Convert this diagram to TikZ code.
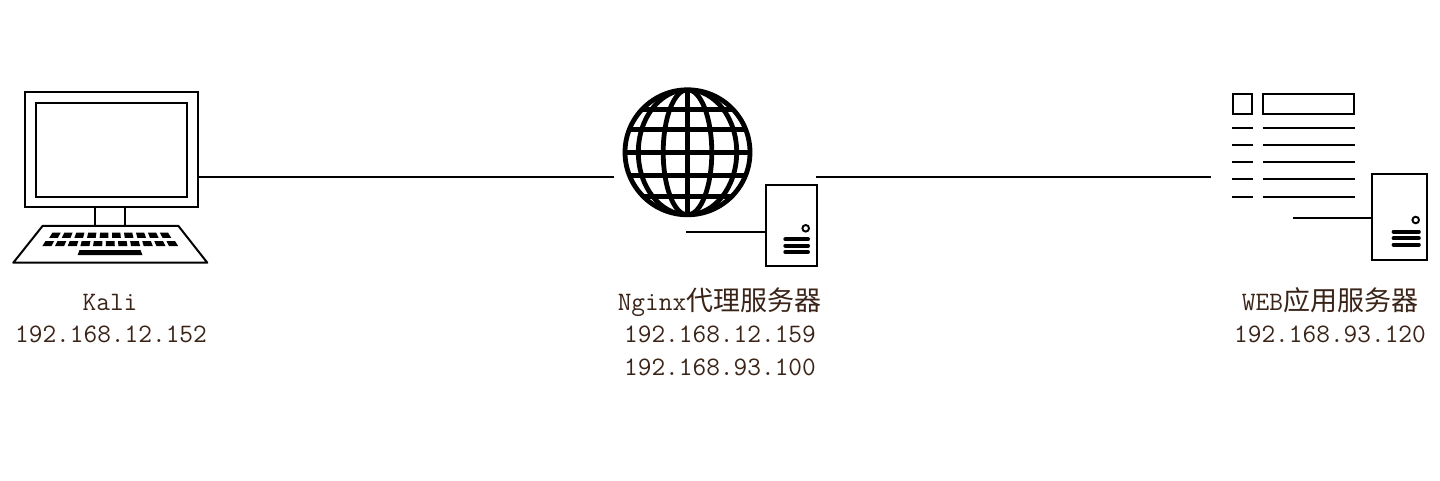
\documentclass[tikz,border=0pt]{standalone}
\usepackage{fontspec}
\setmonofont{Latin Modern Mono}
\newfontfamily\cjkf{Noto Sans CJK SC}[Scale=1]
\definecolor{lbl}{HTML}{3A2418}
\newcommand{\lab}[1]{\ttfamily\fontsize{26.6}{26.6}\selectfont #1}
\newcommand{\cj}[1]{{\cjkf\fontsize{27}{27}\selectfont #1}}
\tikzset{
  outline/.style={draw=black,line width=2pt,fill=white,line join=miter},
  wire/.style={draw=black,line width=2pt},
  bar/.style={draw=black,line width=4pt,line cap=round},
  grid/.style={draw=black,line width=4.8pt},
  lamp/.style={circle,draw=black,line width=1.9pt,minimum size=6.6pt,inner sep=0pt,fill=white},
  caption/.style={anchor=base,text=lbl,inner sep=0pt}
}
\begin{document}
\begin{tikzpicture}[x=1pt,y=-1pt]
\useasboundingbox (0,0) rectangle (1440,480);
\fill[white] (0,0) rectangle (1440,480);
% connectors
\coordinate (kaliport) at (198,177);
\coordinate (nginxleft) at (614,177);
\coordinate (nginxright) at (816,177);
\coordinate (webleft) at (1211,177);
\draw[wire] (kaliport) -- (nginxleft);
\draw[wire] (nginxright) -- (webleft);
% Kali terminal
\draw[outline] (95,207) rectangle (125.3,226);
\draw[outline] (24.5,92) rectangle (197.7,207.3);
\draw[outline] (35.8,103.3) rectangle (186.7,196.7);
\draw[outline,line join=round] (42.7,225.8) -- (178.3,225.8) -- (207.3,262.7) -- (13.3,262.7) -- cycle;
\foreach \i in {0,...,9}{
  \pgfmathsetmacro\ua{-0.815+\i*0.163+0.022}
  \pgfmathsetmacro\ub{\ua+0.112}
  \fill[black] ({110.5+\ua*73.3},232.7) -- ({110.5+\ub*73.3},232.7) -- ({110.5+\ub*77.3},237.9) -- ({110.5+\ua*77.3},237.9) -- cycle;
}
\foreach \i in {0,...,10}{
  \pgfmathsetmacro\ua{-0.83+\i*0.151+0.018}
  \pgfmathsetmacro\ub{\ua+0.108}
  \fill[black] ({110.5+\ua*80.2},241.2) -- ({110.5+\ub*80.2},241.2) -- ({110.5+\ub*84},246.2) -- ({110.5+\ua*84},246.2) -- cycle;
}
\fill[black] (79.5,250) -- (140.5,250) -- (142.5,255) -- (77.7,255) -- cycle;
% globe
\begin{scope}
\clip (687.5,152.3) circle (64);
\foreach \yy in {109.2,129.2,152.3,175.2,196.5}
  \draw[grid] (620,\yy) -- (755,\yy);
\draw[grid] (687.5,85) -- (687.5,220);
\draw[grid] (687.5,152.3) ellipse (24.3 and 62.6);
\draw[grid] (687.5,152.3) ellipse (49.2 and 62.6);
\end{scope}
\draw[grid] (687.5,152.3) circle (62.5);
% proxy server
\coordinate (proxystub) at (686,231.7);
\draw[outline] (765.5,185.4) rectangle (816.7,265.7);
\coordinate (proxyside) at (765.5,231.7);
\draw[wire] (proxystub) -- (proxyside);
\node[lamp] (proxylamp) at (805.7,228.3) {};
\draw[bar] (785.3,239.3) -- (808,239.3);
\draw[bar] (785.3,245.7) -- (808,245.7);
\draw[bar] (785.3,252) -- (808,252);
% web application
\draw[outline] (1233,94.2) rectangle (1251.7,113.6);
\draw[outline] (1263.2,94.2) rectangle (1354.2,113.6);
\foreach \yy in {127.7,145,162.3,179.4,197}{
  \draw[wire] (1232.3,\yy) -- (1252.7,\yy);
  \draw[wire] (1262.7,\yy) -- (1354.7,\yy);
}
% web server
\coordinate (webstub) at (1293.3,217.7);
\draw[outline] (1371.5,173.8) rectangle (1426.7,260);
\coordinate (webside) at (1371.5,217.7);
\draw[wire] (webstub) -- (webside);
\node[lamp] (weblamp) at (1415.7,220) {};
\draw[bar] (1393.6,231.7) -- (1418.8,231.7);
\draw[bar] (1393.6,238.2) -- (1418.8,238.2);
\draw[bar] (1393.6,244.7) -- (1418.8,244.7);
% captions
\node[caption] (kalia) at (110,310) {\lab{Kali}};
\node[caption] (kalib) at (111,342) {\lab{192.168.12.152}};
\node[caption] (ngxa) at (719.5,310) {\lab{Nginx\cj{代理服务器}}};
\node[caption] (ngxb) at (720,342) {\lab{192.168.12.159}};
\node[caption] (ngxc) at (720,375) {\lab{192.168.93.100}};
\node[caption] (weba) at (1330,310) {\lab{WEB\cj{应用服务器}}};
\node[caption] (webb) at (1330,342) {\lab{192.168.93.120}};
\end{tikzpicture}
\end{document}
